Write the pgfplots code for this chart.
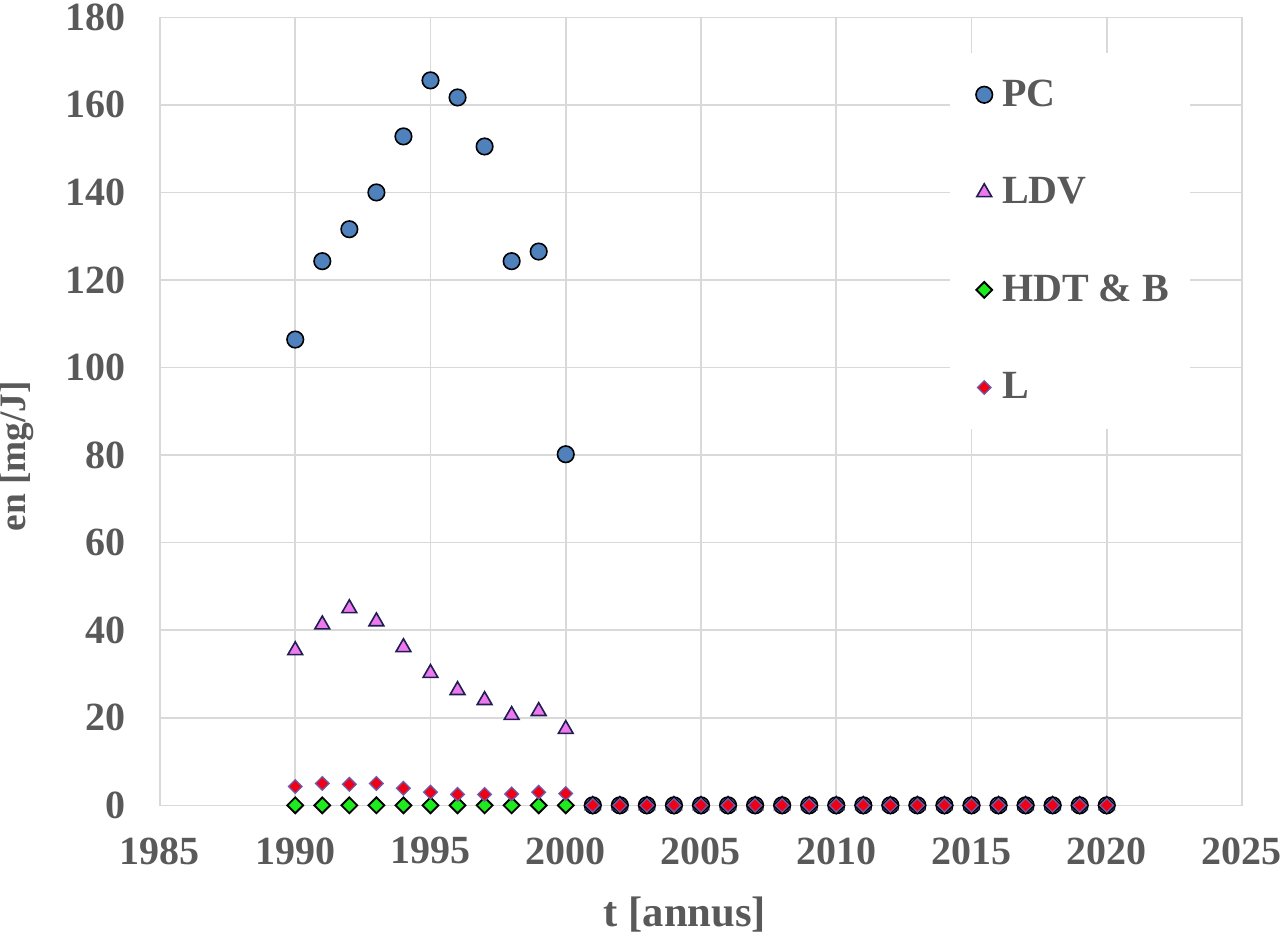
\documentclass[border=0pt]{standalone}
\usepackage{pgfplots}
\pgfplotsset{compat=1.18}
\usepackage{fontspec}
\setmainfont{Liberation Serif}
\definecolor{txtgray}{RGB}{89,89,89}
\definecolor{gridgray}{RGB}{217,217,217}
\definecolor{pcblue}{RGB}{79,129,189}
\definecolor{ldvpink}{RGB}{238,120,238}
\definecolor{hdtgreen}{RGB}{30,235,30}
\definecolor{lred}{RGB}{240,0,20}
\definecolor{ledge}{RGB}{110,90,170}
\definecolor{navy}{RGB}{30,30,80}

\pgfplotstableread{
x    pc     ldv   hdt  l
1990 106.4  35.4  0  4.3
1991 124.3  41.3  0  5.0
1992 131.6  45.0  0  4.8
1993 140.0  42.0  0  5.0
1994 152.8  36.1  0  3.9
1995 165.6  30.2  0  3.0
1996 161.7  26.3  0  2.5
1997 150.5  24.0  0  2.5
1998 124.3  20.6  0  2.6
1999 126.5  21.5  0  3.0
2000 80.2   17.4  0  2.7
2001 0 0 0 0
2002 0 0 0 0
2003 0 0 0 0
2004 0 0 0 0
2005 0 0 0 0
2006 0 0 0 0
2007 0 0 0 0
2008 0 0 0 0
2009 0 0 0 0
2010 0 0 0 0
2011 0 0 0 0
2012 0 0 0 0
2013 0 0 0 0
2014 0 0 0 0
2015 0 0 0 0
2016 0 0 0 0
2017 0 0 0 0
2018 0 0 0 0
2019 0 0 0 0
2020 0 0 0 0
}\emis

\begin{document}
\begin{tikzpicture}
\begin{axis}[
  scale only axis,
  width=405.75pt, height=295.5pt,
  xmin=1985, xmax=2025, ymin=0, ymax=180,
  xtick={1985,1990,...,2025}, ytick={0,20,...,180},
  /pgf/number format/1000 sep={},
  /pgf/number format/assume math mode=true,
  grid=major, major grid style={gridgray, line width=0.6pt},
  axis line style={gridgray, line width=0.6pt},
  tick style={draw=none},
  ticklabel style={font=\fontsize{15}{17}\selectfont\bfseries, text=txtgray},
  xticklabel style={yshift=-8.5pt},
  yticklabel style={xshift=-9.3pt},
  xlabel={t [annus]}, ylabel={en [mg/J]},
  xlabel style={font=\fontsize{16}{18}\selectfont\bfseries, text=txtgray, yshift=-5.5pt, xshift=-6pt},
  ylabel style={font=\fontsize{14}{16}\selectfont\bfseries, text=txtgray, at={(ticklabel cs:0.443)}, yshift=5pt},
  legend style={at={(0.73,0.9556)}, anchor=north west, draw=none, fill=white,
    font=\fontsize{15}{17}\selectfont\bfseries, text=txtgray,
    row sep=21.2pt, inner xsep=6pt, inner ysep=8pt},
  legend cell align=left,
  legend image code/.code={\path (0,0) (11pt,0); \draw[#1] plot coordinates {(6.5pt,0)};},
  only marks,
]
\addplot[mark=*, mark size=3.1pt, mark options={fill=pcblue, draw=black, line width=0.6pt}]
  table[x=x, y=pc] {\emis};
\addlegendentry{PC}
\addplot[mark=triangle*, mark size=3.2pt, mark options={fill=ldvpink, draw=navy, line width=0.6pt}]
  table[x=x, y=ldv] {\emis};
\addlegendentry{LDV}
\addplot[mark=square*, mark size=2.1pt, mark options={rotate=45, fill=hdtgreen, draw=black, line width=0.7pt}]
  table[x=x, y=hdt] {\emis};
\addlegendentry{HDT \& B}
\addplot[mark=square*, mark size=1.8pt, mark options={rotate=45, fill=lred, draw=ledge, line width=0.5pt}]
  table[x=x, y=l] {\emis};
\addlegendentry{L}
\end{axis}
\pgfresetboundingbox
\path ([shift={(-60pt,-50.625pt)}]current axis.south west)
  rectangle ([shift={(14.25pt,6.5pt)}]current axis.north east);
\end{tikzpicture}
\end{document}
